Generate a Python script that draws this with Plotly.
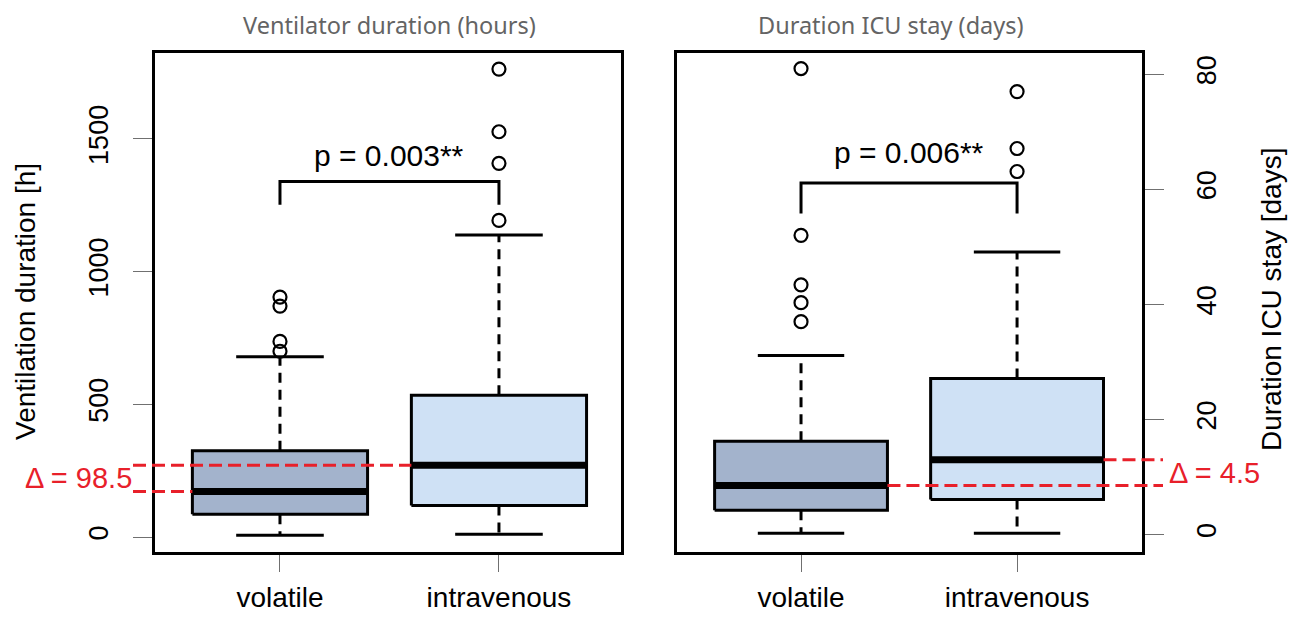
import plotly.graph_objects as go

# ---------------------------------------------------------------- data
groups = ["volatile", "intravenous"]
positions = [1, 2]
box_fill = ["#a3b3cc", "#cfe1f5"]

# Ventilator duration (hours): five-number summaries + outliers
vent_q1 = [86, 119]
vent_median = [171.5, 270]
vent_q3 = [325, 534]
vent_lower = [7, 10]
vent_upper = [679, 1138]
vent_outliers = [[904, 870, 737, 700], [1763, 1527, 1408, 1193]]
vent_p_text = "p = 0.003**"
vent_bracket = [1340, 1252]      # bar level, foot level
vent_p_y = 1437
vent_ticks = [0, 500, 1000, 1500]

# Duration ICU stay (days)
icu_q1 = [4.2, 6.1]
icu_median = [8.5, 13.0]
icu_q3 = [16.2, 27.1]
icu_lower = [0.2, 0.2]
icu_upper = [31.1, 49.1]
icu_outliers = [[81.0, 52.0, 43.4, 40.3, 37.0], [77.0, 67.1, 63.1]]
icu_p_text = "p = 0.006**"
icu_bracket = [61.1, 55.8]
icu_p_y = 66.4
icu_ticks = [0, 20, 40, 60, 80]

# ---------------------------------------------------------------- layout constants
W, H = 1293, 617
FONT = "Liberation Sans"
RED = "#e8202a"
BOX_HALF = 0.4
CAP_HALF = 0.2

def px_x(px):
    return px / W

def px_y(px):
    return 1 - px / H

panel_left = dict(dom=[px_x(154.5), px_x(620.5)], xr=[0.427, 2.555], yr=[-54.6, 1825.6])
panel_right = dict(dom=[px_x(676.5), px_x(1141.5)], xr=[0.4236, 2.576], yr=[-2.955, 83.79])
y_dom = [px_y(551.5), px_y(52.5)]

fig = go.Figure()


def add_panel(xa, ya, q1, med, q3, lo, hi, outs):
    for i, p in enumerate(positions):
        # dashed whiskers
        for a, b in ((q3[i], hi[i]), (q1[i], lo[i])):
            fig.add_trace(go.Scatter(x=[p, p], y=[a, b], mode="lines", xaxis=xa, yaxis=ya,
                                     line=dict(color="black", width=3, dash="10px,7px"),
                                     hoverinfo="skip", showlegend=False))
        # whisker caps
        for v in (hi[i], lo[i]):
            fig.add_trace(go.Scatter(x=[p - CAP_HALF, p + CAP_HALF], y=[v, v], mode="lines",
                                     xaxis=xa, yaxis=ya, line=dict(color="black", width=3),
                                     hoverinfo="skip", showlegend=False))
        # box
        l, r = p - BOX_HALF, p + BOX_HALF
        fig.add_trace(go.Scatter(x=[l, r, r, l, l], y=[q1[i], q1[i], q3[i], q3[i], q1[i]],
                                 mode="lines", fill="toself", fillcolor=box_fill[i],
                                 xaxis=xa, yaxis=ya, line=dict(color="black", width=3),
                                 hoverinfo="skip", showlegend=False))
        # median
        fig.add_trace(go.Scatter(x=[l, r], y=[med[i], med[i]], mode="lines",
                                 xaxis=xa, yaxis=ya, line=dict(color="black", width=7),
                                 hoverinfo="skip", showlegend=False))
        # outliers
        fig.add_trace(go.Scatter(x=[p] * len(outs[i]), y=outs[i], mode="markers",
                                 xaxis=xa, yaxis=ya,
                                 marker=dict(symbol="circle-open", size=13, color="black",
                                             line=dict(width=2.2, color="black")),
                                 hoverinfo="skip", showlegend=False))


def add_bracket(xa, ya, levels, text, text_y):
    top, foot = levels
    fig.add_trace(go.Scatter(x=[positions[0], positions[0], positions[1], positions[1]],
                             y=[foot, top, top, foot], mode="lines", xaxis=xa, yaxis=ya,
                             line=dict(color="black", width=3),
                             hoverinfo="skip", showlegend=False))
    fig.add_annotation(x=(positions[0] + positions[1]) / 2, y=text_y, xref=xa, yref=ya,
                       text=text, showarrow=False, xanchor="center", yanchor="middle",
                       font=dict(family=FONT, size=30, color="black"))


add_panel("x", "y", vent_q1, vent_median, vent_q3, vent_lower, vent_upper, vent_outliers)
add_panel("x2", "y2", icu_q1, icu_median, icu_q3, icu_lower, icu_upper, icu_outliers)
add_bracket("x", "y", vent_bracket, vent_p_text, vent_p_y)
add_bracket("x2", "y2", icu_bracket, icu_p_text, icu_p_y)


def dom_frac(panel, xval):
    r0, r1 = panel["xr"]
    return (xval - r0) / (r1 - r0)


def dom_frac_px(panel, px):
    d0, d1 = panel["dom"]
    return (px_x(px) - d0) / (d1 - d0)


dash_style = dict(color=RED, width=3, dash="13px,6px")
delta_font = dict(family=FONT, size=29, color=RED)

# median difference markers, left panel (lines run out to the left margin)
vent_delta = vent_median[1] - vent_median[0]
left_end = dom_frac_px(panel_left, 133)
fig.add_shape(type="line", xref="x domain", yref="y", layer="above",
              x0=left_end, x1=dom_frac(panel_left, positions[1] - BOX_HALF),
              y0=vent_median[1], y1=vent_median[1], line=dash_style)
fig.add_shape(type="line", xref="x domain", yref="y", layer="above",
              x0=left_end, x1=dom_frac(panel_left, positions[0] - BOX_HALF),
              y0=vent_median[0], y1=vent_median[0], line=dash_style)
fig.add_annotation(x=px_x(134), xref="paper", y=sum(vent_median) / 2, yref="y",
                   text=f"Δ = {vent_delta:g}", showarrow=False, xanchor="right", yanchor="middle",
                   font=delta_font)

# median difference markers, right panel (lines run out to the right margin)
icu_delta = icu_median[1] - icu_median[0]
right_end = dom_frac_px(panel_right, 1163)
fig.add_shape(type="line", xref="x2 domain", yref="y2", layer="above",
              x0=dom_frac(panel_right, positions[1] + BOX_HALF), x1=right_end,
              y0=icu_median[1], y1=icu_median[1], line=dash_style)
fig.add_shape(type="line", xref="x2 domain", yref="y2", layer="above",
              x0=dom_frac(panel_right, positions[0] + BOX_HALF), x1=right_end,
              y0=icu_median[0], y1=icu_median[0], line=dash_style)
fig.add_annotation(x=px_x(1167), xref="paper", y=sum(icu_median) / 2, yref="y2",
                   text=f"Δ = {icu_delta:g}", showarrow=False, xanchor="left", yanchor="middle",
                   font=delta_font)

# panel titles and axis titles
title_font = dict(family="Noto Sans", size=23.5, color="#646464")
fig.add_annotation(x=px_x(389), y=px_y(25), xref="paper", yref="paper", showarrow=False,
                   text="Ventilator duration (hours)", font=title_font,
                   xanchor="center", yanchor="middle")
fig.add_annotation(x=px_x(891), y=px_y(25), xref="paper", yref="paper", showarrow=False,
                   text="Duration ICU stay (days)", font=title_font,
                   xanchor="center", yanchor="middle")
fig.add_annotation(x=px_x(25), y=px_y(302), xref="paper", yref="paper", showarrow=False,
                   text="Ventilation duration [h]", textangle=-90,
                   font=dict(family=FONT, size=28, color="black"),
                   xanchor="center", yanchor="middle")
fig.add_annotation(x=px_x(1271), y=px_y(300), xref="paper", yref="paper", showarrow=False,
                   text="Duration ICU stay [days]", textangle=-90,
                   font=dict(family=FONT, size=28, color="black"),
                   xanchor="center", yanchor="middle")

frame = dict(showline=True, linewidth=3, linecolor="black", mirror=True,
             showgrid=False, zeroline=False, ticks="outside", tickcolor="#707070",
             tickwidth=1, automargin=False)

fig.update_layout(
    width=W, height=H,
    margin=dict(l=0, r=0, t=0, b=0, pad=0),
    paper_bgcolor="white", plot_bgcolor="white",
    showlegend=False,
    xaxis=dict(domain=panel_left["dom"], range=panel_left["xr"], anchor="y",
               tickvals=positions, ticktext=groups, ticklen=17, ticklabelstandoff=2,
               tickfont=dict(family=FONT, size=28, color="black"), **frame),
    yaxis=dict(domain=y_dom, range=panel_left["yr"], anchor="x",
               tickvals=vent_ticks, tickangle=-90, ticklen=19, ticklabelstandoff=14,
               tickfont=dict(family=FONT, size=27, color="black"), **frame),
    xaxis2=dict(domain=panel_right["dom"], range=panel_right["xr"], anchor="y2",
                tickvals=positions, ticktext=groups, ticklen=17, ticklabelstandoff=2,
                tickfont=dict(family=FONT, size=28, color="black"), **frame),
    yaxis2=dict(domain=y_dom, range=panel_right["yr"], anchor="x2", side="right",
                tickvals=icu_ticks, tickangle=-90, ticklen=19, ticklabelstandoff=20,
                tickfont=dict(family=FONT, size=27, color="black"), **frame),
)

fig.write_html("out.html")
